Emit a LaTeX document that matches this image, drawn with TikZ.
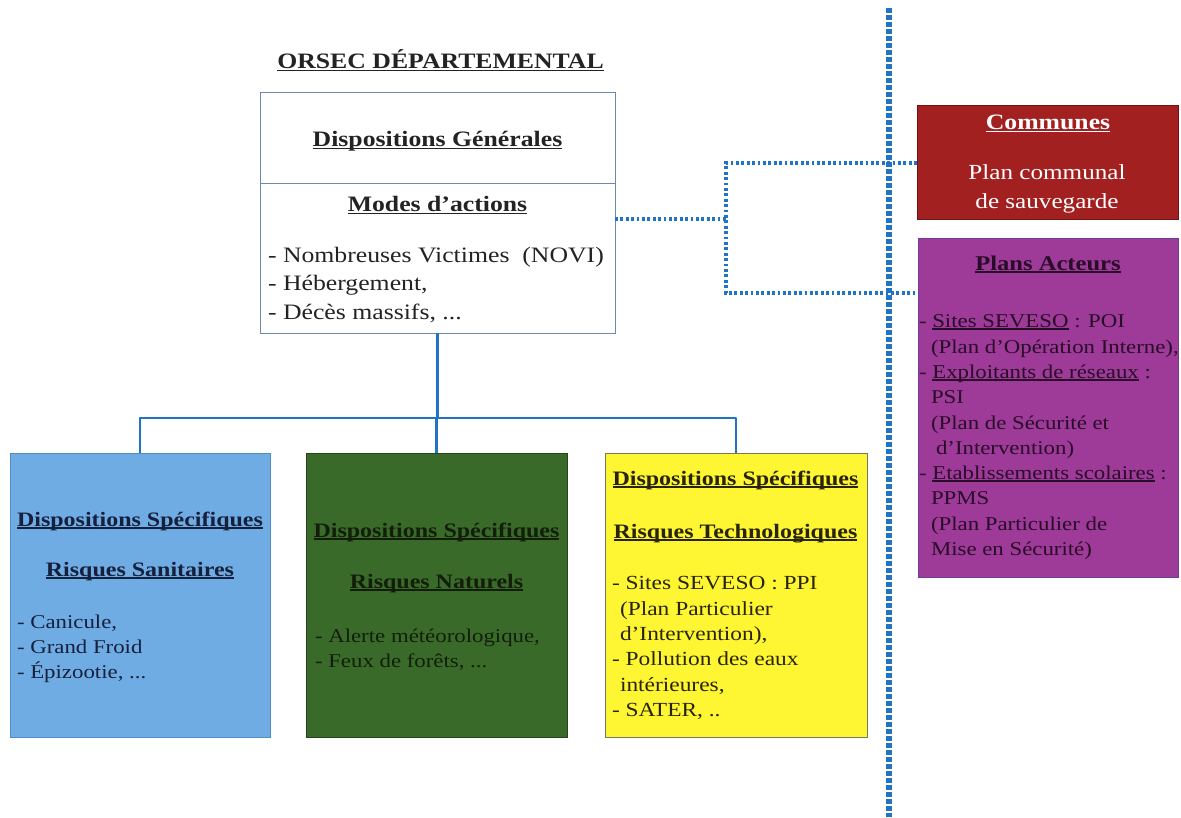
\documentclass[tikz,border=0pt]{standalone}
\usepackage{fontspec}
\setmainfont{Liberation Serif}[FakeStretch=1.17]
\newcommand{\uln}[1]{\setbox0\hbox{#1}\leavevmode\rlap{\rule[-0.13em]{\wd0}{0.06em}}\box0\relax}
\newcommand{\fszMain}{\fontsize{22}{26}\selectfont}
\newcommand{\fszHead}{\fontsize{20.5}{24}\selectfont}
\newcommand{\fszList}{\fontsize{19.5}{24}\selectfont}
\newcommand{\fszYel}{\fontsize{20}{24}\selectfont}
\newcommand{\fszRed}{\fontsize{21.5}{26}\selectfont}
\definecolor{conn}{RGB}{33,115,196}
\definecolor{mainborder}{RGB}{110,135,175}
\definecolor{blueFill}{RGB}{112,172,228}
\definecolor{blueDraw}{RGB}{80,140,200}
\definecolor{greenFill}{RGB}{58,106,42}
\definecolor{greenDraw}{RGB}{35,70,25}
\definecolor{yellowFill}{RGB}{255,246,51}
\definecolor{yellowDraw}{RGB}{120,120,90}
\definecolor{redFill}{RGB}{163,32,32}
\definecolor{redDraw}{RGB}{110,20,20}
\definecolor{purpleFill}{RGB}{158,58,152}
\definecolor{purpleDraw}{RGB}{110,60,150}
\definecolor{txtMain}{RGB}{35,35,35}
\definecolor{txtBlue}{RGB}{22,32,60}
\definecolor{txtGreen}{RGB}{18,30,10}
\definecolor{txtYellow}{RGB}{40,36,10}
\definecolor{txtPurple}{RGB}{40,12,40}
\begin{document}
\begin{tikzpicture}[x=1pt,y=-1pt,
  lft/.style={inner sep=0pt, outer sep=0pt, anchor=base west},
  ctr/.style={inner sep=0pt, outer sep=0pt, anchor=base},
  panel/.style={anchor=north west, inner sep=0pt, outer sep=0pt, line width=0.8pt},
  tree/.style={draw=conn, line width=2.4pt, line join=round},
  dotconn/.style={draw=conn, line width=3.2pt, dash pattern=on 2.8pt off 2.6pt},
  bigdot/.style={draw=conn, line width=5.5pt, dash pattern=on 4.5pt off 2.5pt}]
\useasboundingbox (0,0) rectangle (1181,817);
\fill[white] (0,0) rectangle (1181,817);

% separator
\coordinate (sepTop) at (889,8);
\coordinate (sepBot) at (889,817);
\draw[bigdot] (sepTop) -- (sepBot);

% main box
\node[panel, draw=mainborder, fill=white, minimum width=355pt, minimum height=241pt] (main) at (260,92) {};
\coordinate (divY) at (0,183);
\draw[mainborder, line width=0.8pt] (main.west |- divY) -- (main.east |- divY);

\node[ctr, text=txtMain, font=\fszMain\bfseries] (title) at (440.5,68) {\uln{ORSEC DÉPARTEMENTAL}};
\node[ctr, text=txtMain, font=\fszMain\bfseries] (dg) at (437.5,146) {\uln{Dispositions Générales}};
\node[ctr, text=txtMain, font=\fszMain\bfseries] (ma) at (437.5,211) {\uln{Modes d’actions}};
\node[lft, text=txtMain, font=\fszMain] (m1) at (268,262) {- Nombreuses Victimes\ \ (NOVI)};
\node[lft, text=txtMain, font=\fszMain] (m2) at (268,290) {- Hébergement,};
\node[lft, text=txtMain, font=\fszMain] (m3) at (268,319) {- Décès massifs, ...};

% three specific boxes
\node[panel, draw=blueDraw, fill=blueFill, minimum width=260pt, minimum height=284pt] (blue) at (10,453) {};
\node[panel, draw=greenDraw, fill=greenFill, minimum width=261pt, minimum height=284pt] (green) at (306,453) {};
\node[panel, draw=yellowDraw, fill=yellowFill, minimum width=262pt, minimum height=284pt] (yellow) at (605,453) {};

% tree connectors
\coordinate (hz) at (0,418);
\draw[tree] (main.south) -- (main.south |- hz);
\draw[tree] (blue.north) -- (blue.north |- hz) -- (yellow.north |- hz) -- (yellow.north);
\draw[tree] (green.north |- hz) -- (green.north);

% blue text
\node[ctr, text=txtBlue, font=\fszHead\bfseries] (b1) at (140,526) {\uln{Dispositions Spécifiques}};
\node[ctr, text=txtBlue, font=\fszHead\bfseries] (b2) at (140,576) {\uln{Risques Sanitaires}};
\node[lft, text=txtBlue, font=\fszList] (b3) at (17,628) {- Canicule,};
\node[lft, text=txtBlue, font=\fszList] (b4) at (17,653) {- Grand Froid};
\node[lft, text=txtBlue, font=\fszList] (b5) at (17,678) {- Épizootie, ...};

% green text
\node[ctr, text=txtGreen, font=\fszHead\bfseries] (g1) at (436.5,537) {\uln{Dispositions Spécifiques}};
\node[ctr, text=txtGreen, font=\fszHead\bfseries] (g2) at (436.5,588) {\uln{Risques Naturels}};
\node[lft, text=txtGreen, font=\fszList] (g3) at (315,642) {- Alerte météorologique,};
\node[lft, text=txtGreen, font=\fszList] (g4) at (315,667) {- Feux de forêts, ...};

% yellow text
\node[ctr, text=txtYellow, font=\fszHead\bfseries] (y1) at (735.5,485) {\uln{Dispositions Spécifiques}};
\node[ctr, text=txtYellow, font=\fszHead\bfseries] (y2) at (735.5,538) {\uln{Risques Technologiques}};
\node[lft, text=txtYellow, font=\fszYel] (y3) at (612,589) {- Sites SEVESO : PPI};
\node[lft, text=txtYellow, font=\fszYel] (y4) at (620,615) {(Plan Particulier};
\node[lft, text=txtYellow, font=\fszYel] (y5) at (620,640) {d’Intervention),};
\node[lft, text=txtYellow, font=\fszYel] (y6) at (612,665) {- Pollution des eaux};
\node[lft, text=txtYellow, font=\fszYel] (y7) at (620,691) {intérieures,};
\node[lft, text=txtYellow, font=\fszYel] (y8) at (612,716) {- SATER, ..};

% right boxes
\node[panel, draw=redDraw, fill=redFill, minimum width=261pt, minimum height=114pt] (comm) at (917,105) {};
\node[panel, draw=purpleDraw, fill=purpleFill, minimum width=260pt, minimum height=339pt] (act) at (918,238) {};

\node[ctr, text=white, font=\fontsize{22}{26}\selectfont\bfseries] (c1) at (1048,129) {\uln{Communes}};
\node[ctr, text=white, font=\fszRed] (c2) at (1047,179) {Plan communal};
\node[ctr, text=white, font=\fszRed] (c3) at (1047,208) {de sauvegarde};

\node[ctr, text=txtPurple, font=\fontsize{21}{25}\selectfont\bfseries] (p0) at (1048,270) {\uln{Plans Acteurs}};
\node[lft, text=txtPurple, font=\fszList] (p1) at (919,327) {- \uln{Sites SEVESO} : POI};
\node[lft, text=txtPurple, font=\fszList] (p2) at (931,353) {(Plan d’Opération Interne),};
\node[lft, text=txtPurple, font=\fszList] (p3) at (919,378) {- \uln{Exploitants de réseaux} :};
\node[lft, text=txtPurple, font=\fszList] (p4) at (931,403) {PSI};
\node[lft, text=txtPurple, font=\fszList] (p5) at (931,429) {(Plan de Sécurité et};
\node[lft, text=txtPurple, font=\fszList] (p6) at (936,454) {d’Intervention)};
\node[lft, text=txtPurple, font=\fszList] (p7) at (919,479) {- \uln{Etablissements scolaires} :};
\node[lft, text=txtPurple, font=\fszList] (p8) at (931,504) {PPMS};
\node[lft, text=txtPurple, font=\fszList] (p9) at (931,530) {(Plan Particulier de};
\node[lft, text=txtPurple, font=\fszList] (p10) at (931,555) {Mise en Sécurité)};

% dotted connectors
\coordinate (jn) at (726,219);
\coordinate (tj) at (726,163);
\coordinate (bj) at (726,293);
\draw[dotconn] (main.east |- jn) -- (jn);
\draw[dotconn] (comm.west |- tj) -- (tj) -- (bj) -- (act.west |- bj);
\end{tikzpicture}
\end{document}
